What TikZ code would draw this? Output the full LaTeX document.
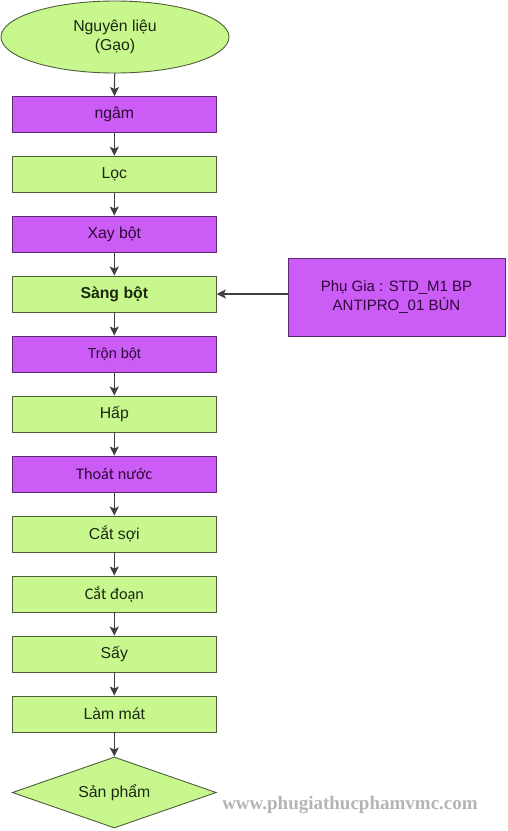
\documentclass[tikz,border=0pt]{standalone}
\usepackage{fontspec}
\setmainfont{Liberation Sans}
\newfontfamily\calib{Carlito}
\newfontfamily\wmserif{Liberation Serif}
\usetikzlibrary{shapes.geometric,arrows.meta}
\definecolor{gfill}{HTML}{C8F78E}
\definecolor{gdraw}{HTML}{4E5E3A}
\definecolor{gtext}{HTML}{1C2810}
\definecolor{pfill}{HTML}{CB5CF6}
\definecolor{pdraw}{HTML}{5E2A6E}
\definecolor{ptext}{HTML}{2E0838}
\definecolor{arr}{HTML}{404040}
\definecolor{wm}{HTML}{B4B4B4}
\begin{document}
\begin{tikzpicture}[x=1pt,y=-1pt,
  gbox/.style={draw=gdraw,fill=gfill,text=gtext,line width=0.9pt,minimum width=204pt,minimum height=36pt,inner sep=0pt,font=\fontsize{15.8}{18}\selectfont},
  pbox/.style={draw=pdraw,fill=pfill,text=ptext,line width=0.9pt,minimum width=204pt,minimum height=36pt,inner sep=0pt,font=\fontsize{15.8}{18}\selectfont},
  flow/.style={draw=arr,line width=1.2pt,-{Stealth[width=9pt,length=9pt,inset=2pt]}}]
\useasboundingbox (0,0) rectangle (507,831);
\node[ellipse,draw=gdraw,fill=gfill,text=gtext,line width=0.9pt,minimum width=228pt,minimum height=72pt,inner sep=0pt,align=center,font=\fontsize{15.8}{19.5}\selectfont] (src) at (115,37) {Nguyên liệu\\(Gạo)};
\node[pbox] (b1) at (114.3,114.5) {ngâm};
\node[gbox] (b2) at (114.3,174.2) {Lọc};
\node[pbox] (b3) at (114.3,234) {Xay bột};
\node[gbox,font=\fontsize{15.8}{18}\selectfont\bfseries] (b4) at (114.3,294) {Sàng bột};
\node[pbox,font=\fontsize{14.5}{18}\selectfont] (b5) at (114.3,354) {Trộn bột};
\node[gbox] (b6) at (114.3,414) {Hấp};
\node[pbox,font=\fontsize{16.2}{18}\calib] (b7) at (114.3,474) {Thoát nước};
\node[gbox] (b8) at (114.3,534) {Cắt sợi};
\node[gbox,font=\fontsize{16.2}{18}\calib] (b9) at (114.3,594) {Cắt đoạn};
\node[gbox] (b10) at (114.3,654) {Sấy};
\node[gbox] (b11) at (114.3,714) {Làm mát};
\node[diamond,draw=gdraw,fill=gfill,text=gtext,line width=0.9pt,aspect=2.87,minimum width=204pt,minimum height=71pt,inner sep=0pt,font=\fontsize{15.8}{18}\selectfont] (dst) at (114.3,792.5) {Sản phẩm};
\node[pbox,minimum width=217pt,minimum height=78pt,align=center,font=\fontsize{15}{19}\selectfont] (add) at (396.5,297.3) {Phụ Gia : STD\_M1 BP\\ANTIPRO\_01 BÚN};
\node[text=wm,font=\fontsize{19}{20}\wmserif\bfseries,inner sep=0pt] (wmk) at (350,805) {www.phugiathucphamvmc.com};
\draw[flow] (src) -- (b1);
\draw[flow] (b1) -- (b2);
\draw[flow] (b2) -- (b3);
\draw[flow] (b3) -- (b4);
\draw[flow] (b4) -- (b5);
\draw[flow] (b5) -- (b6);
\draw[flow] (b6) -- (b7);
\draw[flow] (b7) -- (b8);
\draw[flow] (b8) -- (b9);
\draw[flow] (b9) -- (b10);
\draw[flow] (b10) -- (b11);
\draw[flow] (b11) -- (dst);
\draw[flow] (add.west |- b4) -- (b4.east);
\end{tikzpicture}
\end{document}
